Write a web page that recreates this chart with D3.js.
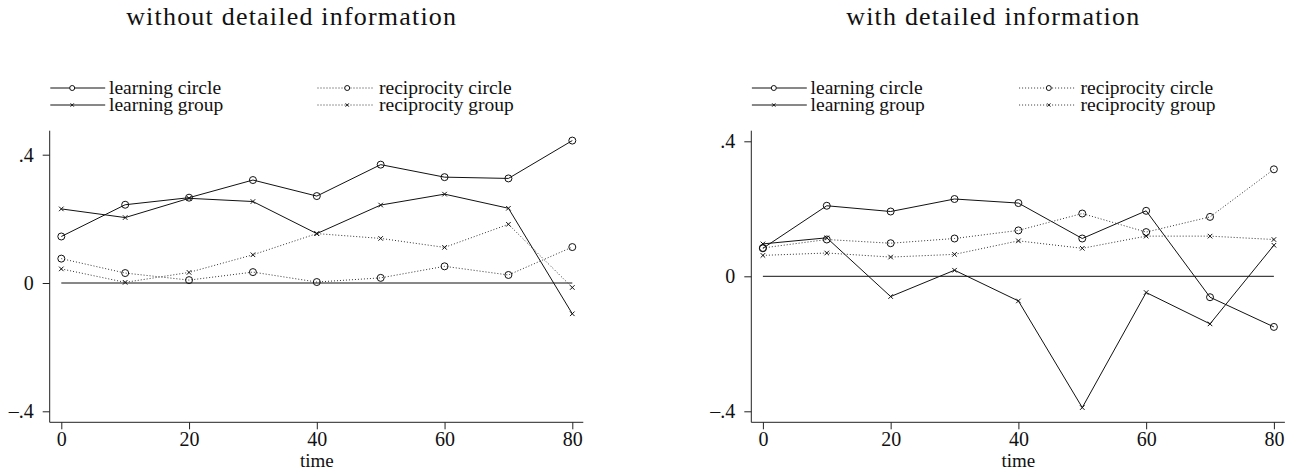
<!DOCTYPE html>
<html>
<head>
<meta charset="utf-8">
<script src="https://cdn.jsdelivr.net/npm/d3@7"></script>
<style>
body { margin: 0; background: #fff; }
text { font-family: "Liberation Serif", "Times New Roman", serif; fill: #111; }
</style>
</head>
<body>
<svg id="chart" width="1300" height="471"></svg>
<script>
// values
const times = [0, 10, 20, 30, 40, 50, 60, 70, 80];
const xTicks = [0, 20, 40, 60, 80];
const yTicks = [-0.4, 0, 0.4];
const panelTitles = ["without detailed information", "with detailed information"];
const seriesNames = ["learning circle", "learning group", "reciprocity circle", "reciprocity group"];

// without detailed information
const noInfoLearnCircle = [0.145, 0.244, 0.266, 0.321, 0.271, 0.369, 0.330, 0.326, 0.444];
const noInfoLearnGroup  = [0.231, 0.204, 0.264, 0.254, 0.154, 0.243, 0.277, 0.233, -0.096];
const noInfoRecipCircle = [0.076, 0.031, 0.009, 0.034, 0.003, 0.016, 0.052, 0.025, 0.112];
const noInfoRecipGroup  = [0.044, 0.002, 0.033, 0.088, 0.154, 0.139, 0.111, 0.183, -0.014];

// with detailed information
const infoLearnCircle = [0.083, 0.209, 0.192, 0.229, 0.217, 0.112, 0.194, -0.062, -0.150];
const infoLearnGroup  = [0.096, 0.114, -0.060, 0.018, -0.073, -0.389, -0.048, -0.141, 0.092];
const infoRecipCircle = [0.084, 0.109, 0.098, 0.112, 0.136, 0.186, 0.131, 0.176, 0.317];
const infoRecipGroup  = [0.062, 0.069, 0.057, 0.065, 0.105, 0.083, 0.119, 0.119, 0.109];

const panels = [
  { title: panelTitles[0], left: 49.7, yTop: 154.7, series: [noInfoLearnCircle, noInfoLearnGroup, noInfoRecipCircle, noInfoRecipGroup] },
  { title: panelTitles[1], left: 751.3, yTop: 141.3, series: [infoLearnCircle, infoLearnGroup, infoRecipCircle, infoRecipGroup] }
];

// style per series: solid/dotted, circle/x
const styles = [
  { dash: null, mark: "circle" },
  { dash: null, mark: "x" },
  { dash: "1,2", mark: "circle" },
  { dash: "1,2", mark: "x" }
];

const svg = d3.select("#chart");

const fmt = v => v === 0 ? "0" : (v < 0 ? "\u2013" : "") + String(Math.abs(v)).replace(/^0/, "");

const drawMark = (g, type, cx, cy, size) => {
  if (type === "circle") {
    g.append("circle").attr("cx", cx).attr("cy", cy).attr("r", size)
      .attr("fill", "#fff").attr("stroke", "#111").attr("stroke-width", 1);
  } else {
    const s = size * 0.65;
    g.append("path")
      .attr("d", `M${cx - s},${cy - s}L${cx + s},${cy + s}M${cx - s},${cy + s}L${cx + s},${cy - s}`)
      .attr("stroke", "#111").attr("stroke-width", 1).attr("fill", "none");
  }
};

panels.forEach(p => {
  const axisTop = 130.7, axisBottom = 422.3;
  const x = d3.scaleLinear().domain([0, 80]).range([p.left + 11.6, p.left + 522.6]);
  const y = d3.scaleLinear().domain([-0.4, 0.4]).range([411.3, p.yTop]);
  const g = svg.append("g");

  // title
  g.append("text")
    .attr("x", p.left + 242).attr("y", 25)
    .attr("text-anchor", "middle")
    .style("font-size", "26px")
    .style("letter-spacing", "1.2px")
    .text(p.title);

  // legend
  const rows = [88, 105];
  const cols = [{ x0: 0.6, x1: 55.5, m: 22.5, tx: 59.3 }, { x0: 267.8, x1: 323.5, m: 297.5, tx: 329.3 }];
  seriesNames.forEach((name, i) => {
    const c = cols[Math.floor(i / 2)], ry = rows[i % 2];
    const lg = g.append("g");
    lg.append("line")
      .attr("x1", p.left + c.x0).attr("x2", p.left + c.x1)
      .attr("y1", ry).attr("y2", ry)
      .attr("stroke", styles[i].dash ? "#333" : "#111")
      .attr("stroke-width", 1)
      .attr("stroke-dasharray", styles[i].dash);
    drawMark(lg, styles[i].mark, p.left + c.m, ry, 2.5);
    lg.append("text")
      .attr("x", p.left + c.tx).attr("y", ry + 6)
      .style("font-size", "19.5px")
      .text(name);
  });

  // axes
  g.append("line")
    .attr("x1", p.left).attr("x2", p.left)
    .attr("y1", axisTop).attr("y2", axisBottom)
    .attr("stroke", "#222");
  g.append("line")
    .attr("x1", p.left).attr("x2", p.left + 533.6)
    .attr("y1", axisBottom).attr("y2", axisBottom)
    .attr("stroke", "#222");

  const yAxis = g.append("g")
    .attr("transform", `translate(${p.left},0)`)
    .call(d3.axisLeft(y).tickValues(yTicks).tickSize(7).tickPadding(9).tickFormat(fmt));
  yAxis.select(".domain").remove();
  yAxis.selectAll(".tick line").attr("stroke", "#222");
  yAxis.selectAll("text").style("font-size", "20px").attr("font-family", null).attr("fill", "#111");

  const xAxis = g.append("g")
    .attr("transform", `translate(0,${axisBottom})`)
    .call(d3.axisBottom(x).tickValues(xTicks).tickSize(7).tickPadding(3).tickFormat(d3.format("d")));
  xAxis.select(".domain").remove();
  xAxis.selectAll(".tick line").attr("stroke", "#222");
  xAxis.selectAll("text").style("font-size", "20px").attr("font-family", null).attr("fill", "#111");

  g.append("text")
    .attr("x", x(40)).attr("y", 467)
    .attr("text-anchor", "middle")
    .style("font-size", "19px")
    .text("time");

  // zero reference line
  g.append("line")
    .attr("x1", x(0)).attr("x2", x(80))
    .attr("y1", y(0)).attr("y2", y(0))
    .attr("stroke", "#111");

  // series
  const line = d3.line().x((d, i) => x(times[i])).y(d => y(d));
  p.series.forEach((vals, i) => {
    g.append("path")
      .datum(vals)
      .attr("d", line)
      .attr("fill", "none")
      .attr("stroke", styles[i].dash ? "#333" : "#111")
      .attr("stroke-width", 1)
      .attr("stroke-dasharray", styles[i].dash);
  });
  p.series.forEach((vals, i) => {
    const mg = g.append("g");
    vals.forEach((v, j) => {
      if (styles[i].mark === "circle") {
        mg.append("circle").attr("cx", x(times[j])).attr("cy", y(v)).attr("r", 3.5)
          .attr("fill", "none").attr("stroke", "#111").attr("stroke-width", 1);
      } else {
        drawMark(mg, "x", x(times[j]), y(v), 3.5);
      }
    });
  });
});
</script>
</body>
</html>
